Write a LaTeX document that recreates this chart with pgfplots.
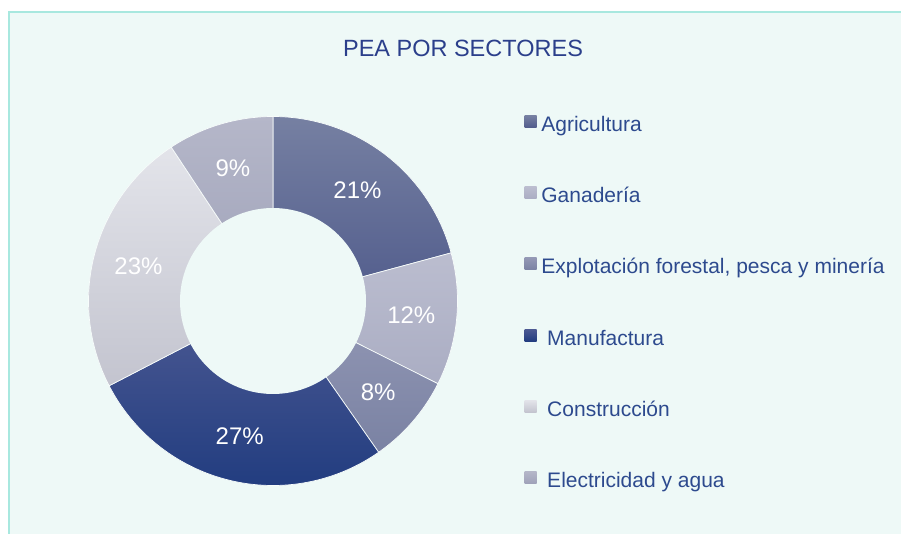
\documentclass[border=0pt]{standalone}
\usepackage{fontspec}
\setmainfont{Liberation Sans}
\usepackage{pgfplots}
\pgfplotsset{compat=1.18}
\usepackage{pgfplotstable}

\definecolor{bg}{HTML}{EEF9F7}
\definecolor{frame}{HTML}{A8E8DF}
\definecolor{titlec}{HTML}{2B3F8B}
\definecolor{legc}{HTML}{2D4A8E}
\definecolor{agriT}{HTML}{7680A2}\definecolor{agriB}{HTML}{515C8C}
\definecolor{ganaT}{HTML}{BBBDCF}\definecolor{ganaB}{HTML}{AAADC3}
\definecolor{explT}{HTML}{9398B5}\definecolor{explB}{HTML}{7A82A3}
\definecolor{manuT}{HTML}{4D5A93}\definecolor{manuB}{HTML}{223D80}
\definecolor{consT}{HTML}{E3E4EA}\definecolor{consB}{HTML}{C3C4CF}
\definecolor{elecT}{HTML}{B5B7C9}\definecolor{elecB}{HTML}{9FA2B9}

% Shares of the economically active population (percent)
\pgfplotstableread{
sector pct cumstart cumend
Agricultura 20.8 0.0 20.8
Ganaderia 11.6 20.8 32.4
Explotacion 7.9 32.4 40.3
Manufactura 27.1 40.3 67.4
Construccion 23.3 67.4 90.7
Electricidad 9.3 90.7 100.0
}\peadata

\def\cx{273}\def\cy{232}\def\Rout{184.5}\def\Rin{93}\def\Rmid{139}
\tikzset{lbl/.style={text=white, font=\fontsize{24}{28}\selectfont}}

\begin{document}
\begin{tikzpicture}[x=1pt,y=1pt]
\clip (0,0) rectangle (901,533);
\fill[white] (0,0) rectangle (901,533);
\draw[line width=2.2pt, draw=frame, fill=bg] (9,-10) rectangle (920,521);
\begin{axis}[
  at={(0,0)}, anchor=south west,
  x=1pt, y=1pt, xmin=0, xmax=901, ymin=0, ymax=533,
  hide axis, clip=false,
  legend style={at={(axis cs:521,419.5)}, anchor=north west, draw=none, fill=none,
     font=\fontsize{21}{24}\selectfont, text=legc,
     row sep=51.1pt, nodes={inner sep=0pt, text height=14pt, text depth=4pt}},
  legend cell align=left,
  legend image code/.code={\path[#1,draw=none] (0pt,-1pt) rectangle (12pt,11pt); \path (0pt,0pt) (16.5pt,0pt);},
  slice/.style={draw=white!55!bg, line width=0.7pt, samples=90},
]
% angle = 90 - 3.6*cumulative percent
\addplot[slice, top color=agriT, bottom color=agriB, domain={90-3.6*0}:{90-3.6*20.8}]
  ({\cx+\Rout*cos(x)},{\cy+\Rout*sin(x)}) -- (axis cs:\cx,\cy) -- cycle;
\addplot[slice, top color=ganaT, bottom color=ganaB, domain={90-3.6*20.8}:{90-3.6*32.4}]
  ({\cx+\Rout*cos(x)},{\cy+\Rout*sin(x)}) -- (axis cs:\cx,\cy) -- cycle;
\addplot[slice, top color=explT, bottom color=explB, domain={90-3.6*32.4}:{90-3.6*40.3}]
  ({\cx+\Rout*cos(x)},{\cy+\Rout*sin(x)}) -- (axis cs:\cx,\cy) -- cycle;
\addplot[slice, top color=manuT, bottom color=manuB, domain={90-3.6*40.3}:{90-3.6*67.4}]
  ({\cx+\Rout*cos(x)},{\cy+\Rout*sin(x)}) -- (axis cs:\cx,\cy) -- cycle;
\addplot[slice, top color=consT, bottom color=consB, domain={90-3.6*67.4}:{90-3.6*90.7}]
  ({\cx+\Rout*cos(x)},{\cy+\Rout*sin(x)}) -- (axis cs:\cx,\cy) -- cycle;
\addplot[slice, top color=elecT, bottom color=elecB, domain={90-3.6*90.7}:{90-3.6*100}]
  ({\cx+\Rout*cos(x)},{\cy+\Rout*sin(x)}) -- (axis cs:\cx,\cy) -- cycle;
\legend{Agricultura, Ganadería, {Explotación forestal, pesca y minería}, {\ Manufactura}, {\ Construcción}, {\ Electricidad y agua}}
% hole of the doughnut
\addplot[forget plot, fill=bg, draw=none, domain=0:360, samples=120]
  ({\cx+\Rin*cos(x)},{\cy+\Rin*sin(x)}) -- cycle;
% percentage labels at mid-angle, mid-radius
\node[lbl] at (axis cs:{\cx+\Rmid*cos(52.56)},{\cy+\Rmid*sin(52.56)}) {21\%};
\node[lbl] at (axis cs:{\cx+\Rmid*cos(-5.76)},{\cy+\Rmid*sin(-5.76)}) {12\%};
\node[lbl] at (axis cs:{\cx+\Rmid*cos(-40.86)},{\cy+\Rmid*sin(-40.86)}) {8\%};
\node[lbl] at (axis cs:{\cx+\Rmid*cos(-103.86)},{\cy+\Rmid*sin(-103.86)}) {27\%};
\node[lbl] at (axis cs:{\cx+\Rmid*cos(-194.58)},{\cy+\Rmid*sin(-194.58)}) {23\%};
\node[lbl] at (axis cs:{\cx+\Rmid*cos(-253.26)},{\cy+\Rmid*sin(-253.26)}) {9\%};
\node[text=titlec, font=\fontsize{23.5}{27}\selectfont] at (axis cs:463,485) {PEA POR SECTORES};
\end{axis}
\end{tikzpicture}
\end{document}
